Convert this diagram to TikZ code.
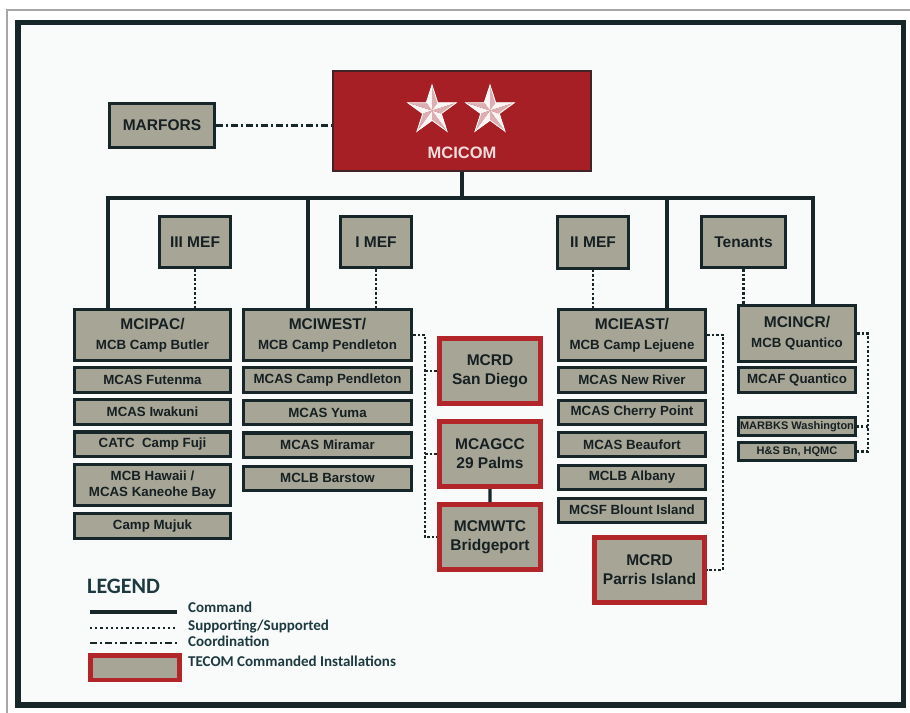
\documentclass[tikz,border=0pt]{standalone}
\usepackage{fontspec}
\usepackage{xcolor}
\usepackage{tikz}
\newfontfamily\boxfont{Liberation Sans}
\newfontfamily\legfont{Carlito}
\definecolor{khaki}{RGB}{166,165,150}
\definecolor{edge}{RGB}{22,38,41}
\definecolor{ink}{RGB}{22,32,34}
\definecolor{hqred}{RGB}{166,31,37}
\definecolor{tecred}{RGB}{178,38,42}
\definecolor{pale}{RGB}{242,220,220}
\definecolor{legink}{RGB}{28,58,63}
\definecolor{paper}{RGB}{249,250,250}
\definecolor{starlight}{RGB}{253,244,244}
\definecolor{starshade}{RGB}{220,176,178}

\begin{document}
\begin{tikzpicture}[scale=0.3514,
    unitbox/.style={draw=edge, fill=khaki, line width=3pt, text=ink, align=center,
      font=\boxfont\bfseries\fontsize{13.3}{16}\selectfont},
    instbox/.style={unitbox, minimum width=#1, minimum height=24pt},
    headbox/.style={unitbox, minimum width=#1, minimum height=51pt,
      font=\boxfont\bfseries\fontsize{13.3}{20}\selectfont},
    mefbox/.style={unitbox, minimum width=#1, minimum height=51pt,
      font=\boxfont\bfseries\fontsize{15.5}{18}\selectfont},
    tecombox/.style={unitbox, draw=tecred, line width=5pt, minimum width=#1,
      minimum height=65pt, font=\boxfont\bfseries\fontsize{15.5}{19}\selectfont},
    commandline/.style={draw=edge, line width=3.2pt},
    supportline/.style={draw=edge, line width=2.8pt, dash pattern=on 2.5pt off 2.1pt},
    coordline/.style={draw=edge, line width=3pt, dash pattern=on 7pt off 3pt on 2pt off 3pt},
    legtext/.style={anchor=west, text=legink, text height=10pt, text depth=3pt,
      font=\legfont\bfseries\fontsize{15}{18}\selectfont}]
\tikzstyle{every node}+=[inner sep=0pt]
\useasboundingbox (0,0) rectangle (91,-71.3);
\fill[white] (0,0) rectangle (91,-71.3);
\draw[gray!70, line width=1.2pt] (0.7,-71.3) -- (0.7,-1.0) -- (91,-1.0);
\draw[edge, line width=5.5pt, fill=paper] (1.8,-2.25) rectangle (90.35,-70.5);

% top
\node[unitbox, minimum width=105pt, minimum height=44pt,
  font=\boxfont\bfseries\fontsize{15.5}{18}\selectfont] (marfors) at (16.2,-12.55) {MARFORS};
\node[draw=edge!70!hqred, fill=hqred, line width=1.8pt, minimum width=258pt,
  minimum height=100pt] (mcicom) at (46.2,-12.1) {};
\node[text=pale, font=\boxfont\bfseries\fontsize{16.5}{18}\selectfont] (mcicomname) at (46.2,-15.33) {MCICOM};
\foreach \cx in {43.2,49.0} {
  \begin{scope}[shift={(\cx,-11.06)}]
    \foreach \a in {90,162,234,306,378} {
      \fill[starlight] (0,0) -- (\a:2.56) -- (\a+36:0.98) -- cycle;
      \fill[starshade] (0,0) -- (\a:2.56) -- (\a-36:0.98) -- cycle;
    }
    \draw[white, line width=0.8pt] (90:2.56) \foreach \a in {162,234,306,378} {-- (\a-36:0.98) -- (\a:2.56)} -- (54:0.98) -- cycle;
  \end{scope}
}

\node[mefbox=71pt] (iiimef) at (19.5,-24.2) {III MEF};
\node[mefbox=71pt] (imef) at (37.6,-24.2) {I MEF};
\node[mefbox=71pt] (iimef) at (59.3,-24.25) {II MEF};
\node[mefbox=84pt] (tenants) at (74.35,-24.2) {Tenants};

% MCIPAC
\node[headbox=156pt] (mcipac) at (15.25,-33.5) {{\fontsize{15.5}{20}\selectfont MCIPAC/}\\MCB Camp Butler};
\node[instbox=156pt] (futenma) at (15.25,-38.0) {MCAS Futenma};
\node[instbox=156pt] (iwakuni) at (15.25,-41.2) {MCAS Iwakuni};
\node[instbox=156pt] (fuji) at (15.25,-44.4) {CATC~ Camp Fuji};
\node[instbox=156pt, minimum height=41pt] (hawaii) at (15.25,-48.5) {MCB Hawaii /\\MCAS Kaneohe Bay};
\node[instbox=156pt, minimum height=25pt] (mujuk) at (15.25,-52.6) {Camp Mujuk};

% MCIWEST
\node[headbox=168pt] (mciwest) at (32.75,-33.5) {{\fontsize{15.5}{20}\selectfont MCIWEST/}\\MCB Camp Pendleton};
\node[instbox=168pt] (pendleton) at (32.75,-38.0) {MCAS Camp Pendleton};
\node[instbox=168pt] (yuma) at (32.75,-41.25) {MCAS Yuma};
\node[instbox=168pt] (miramar) at (32.75,-44.5) {MCAS Miramar};
\node[instbox=168pt] (barstow) at (32.75,-47.8) {MCLB Barstow};

\node[tecombox=101pt] (sandiego) at (49.0,-37.1) {MCRD\\San Diego};
\node[tecombox=101pt] (palms) at (49.0,-45.4) {MCAGCC\\29 Palms};
\node[tecombox=101pt] (bridgeport) at (49.0,-53.7) {MCMWTC\\Bridgeport};

% MCIEAST
\node[headbox=147pt] (mcieast) at (63.2,-33.5) {{\fontsize{15.5}{20}\selectfont MCIEAST/}\\MCB Camp Lejuene};
\node[instbox=147pt] (newriver) at (63.2,-38.0) {MCAS New River};
\node[instbox=147pt] (cherry) at (63.2,-41.25) {MCAS Cherry Point};
\node[instbox=147pt] (beaufort) at (63.2,-44.45) {MCAS Beaufort};
\node[instbox=147pt] (albany) at (63.2,-47.7) {MCLB Albany};
\node[instbox=147pt] (blount) at (63.2,-51.0) {MCSF Blount Island};
\node[tecombox=110pt] (parris) at (64.95,-57.0) {MCRD\\Parris Island};

% MCINCR
\node[headbox=117pt, minimum height=56pt] (mcincr) at (79.7,-33.35) {{\fontsize{15.5}{20}\selectfont MCINCR/}\\MCB Quantico};
\node[instbox=117pt] (mcaf) at (79.7,-38.0) {MCAF Quantico};
\node[instbox=117pt, minimum height=18pt, font=\boxfont\bfseries\fontsize{11}{13}\selectfont] (marbks) at (79.7,-42.65) {MARBKS Washington};
\node[instbox=117pt, minimum height=18pt, font=\boxfont\bfseries\fontsize{11}{13}\selectfont] (hqmc) at (79.7,-45.15) {H\&S Bn, HQMC};

% connectors
\draw[coordline] (marfors.east) -- (marfors.east -| mcicom.west);
\coordinate (tappac) at (10.8,-19.8);
\coordinate (tapwest) at (30.8,-19.8);
\coordinate (tapeast) at (66.7,-19.8);
\coordinate (tapncr) at (81.3,-19.8);
\draw[commandline] (mcicom.south) -- (mcicom.south |- tappac);
\draw[commandline] (tappac |- mcipac.north) -- (tappac) -- (tapncr) -- (tapncr |- mcincr.north);
\draw[commandline] (tapwest) -- (tapwest |- mciwest.north);
\draw[commandline] (tapeast) -- (tapeast |- mcieast.north);
\draw[commandline] (palms) -- (bridgeport);

\foreach \m/\u in {iiimef/mcipac, imef/mciwest, iimef/mcieast, tenants/mcincr}
  \draw[supportline] (\m.south) -- (\m.south |- \u.north);
\coordinate (westrail) at (42.5,-33.5);
\draw[supportline] (mciwest.east) -- (westrail) |- (bridgeport.west);
\draw[supportline] (westrail |- sandiego.west) -- (sandiego.west);
\draw[supportline] (westrail |- palms.west) -- (palms.west);
\coordinate (eastrail) at (72.3,-33.5);
\draw[supportline] (mcieast.east) -- (eastrail) |- (parris.east);
\coordinate (ncrrail) at (86.8,-33.35);
\draw[supportline] (mcincr.east) -- (ncrrail) |- (hqmc.east);
\draw[supportline] (ncrrail |- marbks.east) -- (marbks.east);

% legend
\node[anchor=west, text=legink, font=\legfont\bfseries\fontsize{22}{24}\selectfont] (legend) at (8.7,-58.65) {LEGEND};
\draw[commandline] (9.0,-61.2) -- (17.7,-61.2);
\draw[supportline, line width=2.4pt, dash pattern=on 2.2pt off 3pt] (9.0,-62.8) -- (17.7,-62.8);
\draw[coordline, line width=2.6pt] (9.0,-64.3) -- (17.7,-64.3);
\node[draw=tecred, fill=khaki, line width=4.5pt, minimum width=89pt, minimum height=24.5pt] (legbox) at (13.5,-66.75) {};
\node[legtext] (legcmd) at (18.8,-60.9) {Command};
\node[legtext] (legsup) at (18.8,-62.7) {Supporting/Supported};
\node[legtext] (legcoord) at (18.8,-64.3) {Coordination};
\node[legtext] (legtecom) at (18.8,-66.3) {TECOM Commanded Installations};
\end{tikzpicture}
\end{document}
